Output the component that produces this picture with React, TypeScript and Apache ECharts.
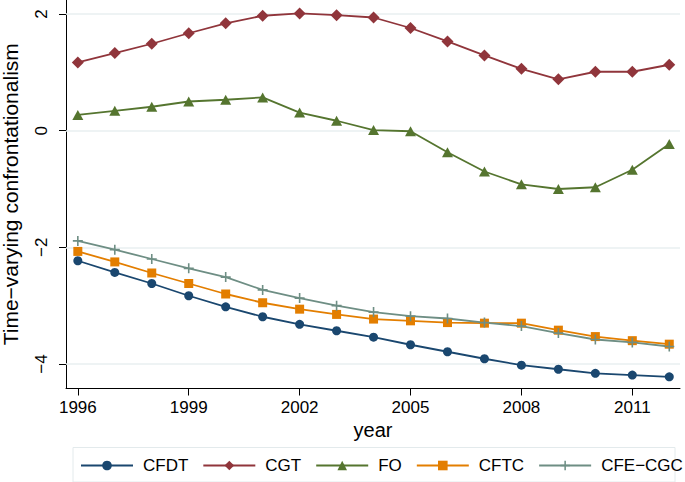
import React, { useEffect, useRef } from 'react';
import * as echarts from 'echarts';

const years = [1996, 1997, 1998, 1999, 2000, 2001, 2002, 2003, 2004, 2005, 2006, 2007, 2008, 2009, 2010, 2011, 2012];
const cfdt = [-2.23, -2.43, -2.62, -2.83, -3.02, -3.19, -3.32, -3.43, -3.54, -3.67, -3.79, -3.91, -4.02, -4.09, -4.16, -4.19, -4.22];
const cgt = [1.17, 1.33, 1.49, 1.67, 1.84, 1.97, 2.01, 1.98, 1.94, 1.76, 1.53, 1.29, 1.06, 0.88, 1.01, 1.01, 1.13];
const fo = [0.27, 0.34, 0.41, 0.5, 0.53, 0.57, 0.31, 0.17, 0.01, -0.01, -0.37, -0.7, -0.92, -1.0, -0.97, -0.67, -0.23];
const cftc = [-2.07, -2.25, -2.44, -2.62, -2.8, -2.95, -3.06, -3.15, -3.23, -3.26, -3.29, -3.3, -3.3, -3.42, -3.53, -3.6, -3.66];
const cfeCgc = [-1.89, -2.04, -2.2, -2.36, -2.51, -2.73, -2.87, -3.0, -3.11, -3.18, -3.22, -3.29, -3.35, -3.47, -3.58, -3.63, -3.7];

const seriesNames = ['CFDT', 'CGT', 'FO', 'CFTC', 'CFE\u2212CGC'];
const xTicks = [1996, 1999, 2002, 2005, 2008, 2011];
const yTicks = [-4, -2, 0, 2];

const FONT = '"Liberation Sans", Arial, Helvetica, sans-serif';
const PLUS = 'path://M4.2,0h1.6v4.2h4.2v1.6h-4.2v4.2h-1.6v-4.2h-4.2v-1.6h4.2z';

export default function App() {
  const ref = useRef<HTMLDivElement>(null);
  useEffect(() => {
    const chart = echarts.init(ref.current!, null, { renderer: 'svg', width: 685, height: 482 });
    const pair = (vals: number[]) => years.map((y, i) => [y, vals[i]]);
    const mk = (name: string, vals: number[], color: string, symbol: string, size: any, extra: any = {}) => ({
      name,
      type: 'line',
      data: pair(vals),
      symbol,
      symbolSize: size,
      z: 3,
      lineStyle: { color, width: 1.8 },
      itemStyle: { color },
      emphasis: { disabled: true },
      ...extra,
    });
    const option: any = {
      animation: false,
      backgroundColor: '#ffffff',
      textStyle: { fontFamily: FONT },
      grid: { left: 66, right: 5, top: 0, bottom: 93.5, containLabel: false, outerBoundsMode: 'none' },
      graphic: [
        {
          type: 'rect',
          left: 72.5,
          top: 447,
          z: 0,
          shape: { width: 602, height: 34.5 },
          style: { fill: '#ffffff', stroke: '#e3eaec', lineWidth: 1 },
        },
      ],
      legend: {
        data: seriesNames,
        left: 80,
        top: 457,
        width: 605,
        padding: 0,
        itemWidth: 52,
        itemHeight: 12,
        itemGap: 14,
        textStyle: { fontSize: 17, color: '#000', fontFamily: FONT, padding: [0, 0, 0, 5] },
      },
      xAxis: {
        type: 'value',
        min: 1995.68,
        max: 2012.29,
        name: 'year',
        nameLocation: 'middle',
        nameGap: 26,
        nameTextStyle: { fontSize: 20, color: '#000', fontFamily: FONT },
        axisLine: { show: true, onZero: false, lineStyle: { color: '#000', width: 1 } },
        axisTick: { show: true, length: 7, customValues: xTicks, lineStyle: { color: '#000', width: 1 } },
        axisLabel: {
          customValues: xTicks,
          margin: 10,
          fontSize: 17,
          color: '#000',
          fontFamily: FONT,
          formatter: (v: number) => String(v),
        },
        splitLine: { show: false },
      },
      yAxis: {
        type: 'value',
        min: -4.42,
        max: 2.24,
        name: 'Time\u2212varying confrontationalism',
        nameLocation: 'middle',
        nameGap: 45,
        nameRotate: 90,
        nameTextStyle: { fontSize: 21, color: '#000', fontFamily: FONT },
        axisLine: { show: true, onZero: false, lineStyle: { color: '#000', width: 1 } },
        axisTick: { show: true, length: 7, customValues: yTicks, lineStyle: { color: '#000', width: 1 } },
        axisLabel: {
          customValues: yTicks,
          rotate: 90,
          margin: 16,
          fontSize: 17,
          color: '#000',
          fontFamily: FONT,
          formatter: (v: number) => String(v).replace('-', '\u2212'),
        },
        splitLine: { show: false },
      },
      series: [
        mk(seriesNames[0], cfdt, '#1a476f', 'circle', 9, {
          markLine: {
            silent: true,
            z: 1,
            symbol: ['none', 'none'],
            label: { show: false },
            lineStyle: { color: '#e8eff1', width: 1.5, type: 'solid' },
            emphasis: { disabled: true },
            data: yTicks.map((v) => ({ yAxis: v })),
          },
        }),
        mk(seriesNames[1], cgt, '#90353b', 'diamond', [12, 12]),
        mk(seriesNames[2], fo, '#55752f', 'triangle', [11, 10]),
        mk(seriesNames[3], cftc, '#e37e00', 'rect', 9),
        mk(seriesNames[4], cfeCgc, '#6e8e84', PLUS, 10),
      ],
    };
    chart.setOption(option);
    return () => chart.dispose();
  }, []);
  return (
    <div
      ref={ref}
      style={{ position: 'fixed', left: 0, top: 0, width: 685, height: 482, background: '#fff' }}
    />
  );
}
